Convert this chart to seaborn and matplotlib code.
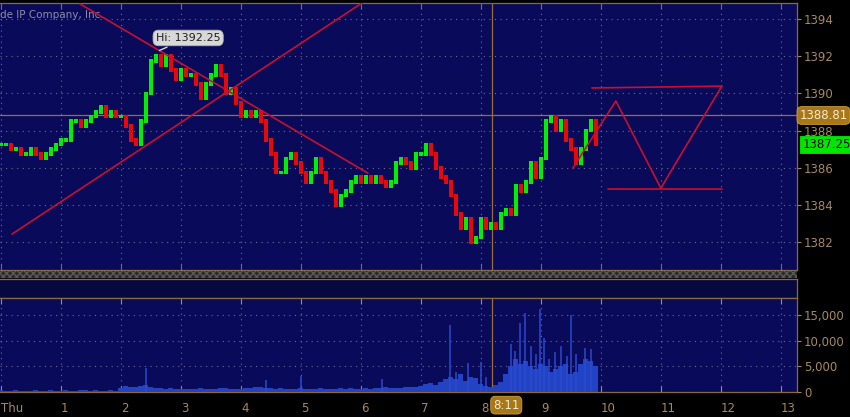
import numpy as np
import matplotlib.pyplot as plt
import seaborn as sns
from matplotlib.patches import Rectangle
import matplotlib.transforms as mtransforms

# 5-minute closes
closes = [1387.25, 1387.25, 1387.0, 1387.0, 1386.75, 1386.75, 1387.0, 1386.75, 1386.5, 1386.75,
          1387.0, 1387.25, 1387.5, 1387.5, 1388.5, 1388.5, 1388.25, 1388.5, 1388.75, 1389.0,
          1389.25, 1388.75, 1389.0, 1388.75, 1388.75, 1388.25, 1387.5, 1387.25, 1388.5, 1390.0,
          1391.75, 1392.0, 1391.5, 1392.0, 1391.25, 1390.75, 1391.25, 1391.0, 1391.0, 1390.5,
          1389.75, 1390.5, 1391.0, 1391.5, 1391.0, 1390.0, 1390.25, 1389.5, 1388.75, 1389.0,
          1388.75, 1389.0, 1388.5, 1387.5, 1386.75, 1385.75, 1385.75, 1386.5, 1386.75, 1386.25,
          1385.75, 1385.25, 1385.75, 1386.5, 1385.75, 1385.25, 1384.75, 1384.0, 1384.5, 1384.75,
          1385.25, 1385.5, 1385.25, 1385.5, 1385.25, 1385.5, 1385.25, 1385.0, 1385.25, 1386.25,
          1386.5, 1386.25, 1386.0, 1386.75, 1386.75, 1387.25, 1386.75, 1386.0, 1385.5, 1385.25,
          1384.5, 1383.5, 1382.75, 1383.25, 1382.0, 1382.25, 1383.25, 1382.75, 1383.0, 1382.75,
          1383.5, 1383.75, 1383.5, 1385.0, 1384.75, 1385.25, 1386.25, 1385.5, 1386.5, 1388.5,
          1388.75, 1388.0, 1388.5, 1387.5, 1387.0, 1386.25, 1387.0, 1388.0, 1388.5, 1387.25]

# 5-minute base volume
vol_base = [300, 250, 200, 300, 250, 200, 250, 300, 200, 250, 300, 250, 200, 300, 250, 200,
            300, 350, 250, 300, 250, 200, 300, 250,
            700, 1200, 1000, 900, 1100, 1300,
            1000, 800, 700, 600, 700, 600,
            500, 600, 500, 600, 700, 500, 600, 500, 700, 800, 600, 500,
            600, 700, 800, 1000, 900, 800, 700, 600, 700, 600, 500, 600,
            700, 600, 500, 600, 700, 600, 500, 600, 700, 600, 700, 600,
            600, 700, 600, 800, 700, 900, 800, 700, 800, 900, 1000, 900,
            1200, 1500, 1800, 1400, 2000, 2500,
            3000, 2500, 3500, 2200, 3000, 2800,
            1500, 1200, 1000, 1400,
            2000, 3500, 5000, 6500, 5500, 6000, 5000, 4500, 5500, 5000,
            4000, 4500, 5000, 5500, 3500, 4000, 5500, 6500, 6000, 5000]

# single-minute volume spikes (minute after open, volume)
spike_min = [145, 265, 300, 381, 449, 455, 467, 480, 485, 510, 514, 519, 524, 530,
             535, 539, 543, 548, 554, 560, 566, 570, 575, 584, 590]
spike_vol = [4700, 2300, 3100, 2500, 13100, 4000, 5700, 5900, 3000, 9400, 8000, 13500, 15500, 9000,
             7500, 16300, 10500, 6500, 7800, 9000, 7000, 15100, 7500, 8600, 8500]

hour_labels = ['Thu', '1', '2', '3', '4', '5', '6', '7', '8', '9', '10', '11', '12', '13']
price_ticks = [1382, 1384, 1386, 1388, 1390, 1392, 1394]
vol_ticks = [0, 5000, 10000, 15000]

cursor_hour = 8 + 11 / 60
cursor_price = 1388.81
last_price = 1387.25
hi_hour = 2.6
hi_price = 1392.25

# hand drawn trend lines
down_x = [1.317, 6.117]
down_y = [1394.81, 1385.71]
up_x = [0.183, 6.017]
up_y = [1382.43, 1394.86]
top_x = [9.85, 12.017]
top_y = [1390.29, 1390.39]
zig_x = [9.533, 10.25, 11.0, 12.017]
zig_y = [1385.98, 1389.59, 1384.90, 1390.39]
bot_x = [10.117, 12.017]
bot_y = [1384.85, 1384.85]

sns.set_style('dark')
plt.rcParams['font.family'] = ['DejaVu Sans']

navy = '#0a0a5a'
tan = '#a68a5c'
edge = '#8a6a40'
grid_kw = dict(color='#6c6c90', linewidth=0.8, linestyle=(0, (1, 4)))

fig = plt.figure(figsize=(8.5, 4.17), dpi=100, facecolor='black')
W, H = 850, 417
ax = fig.add_axes([0, 1 - 270 / H, 797 / W, 267 / H], facecolor=navy)
ax_e = fig.add_axes([0, 1 - 298 / H, 797 / W, 19 / H], facecolor='#080840')
ax_v = fig.add_axes([0, 1 - 392 / H, 797 / W, 94 / H], facecolor=navy)
fig.patches.append(Rectangle((0, 1 - 278 / H), 797 / W, 7 / H, transform=fig.transFigure,
                             facecolor='#2a2a2a', edgecolor='#5a5a5a', hatch='xxxxx', linewidth=0))

xlim = (-1 / 60, 13.27)

# price bars: body from previous close to close
c = np.array(closes)
o = np.r_[c[0], c[:-1]]
t = np.arange(len(c)) * 5 / 60
cols = np.where(c >= o, '#00f000', '#e80808')
lo = np.minimum(o, c) - 0.1
hi = np.maximum(o, c) + 0.1
ax.bar(t, hi - lo, bottom=lo, width=4.0 / 60, color=cols, linewidth=0, zorder=3)

for xs, ys in [(down_x, down_y), (up_x, up_y), (top_x, top_y), (zig_x, zig_y), (bot_x, bot_y)]:
    sns.lineplot(x=xs, y=ys, ax=ax, color='#c8102e', linewidth=1.2, sort=False, zorder=4)

ax.axhline(cursor_price, color='#9a6e3a', linewidth=0.9, zorder=2)
ax.axvline(cursor_hour, color='#9a6e3a', linewidth=0.9, zorder=2)

ax.set_xlim(*xlim)
ax.set_ylim(1380.5, 1394.86)
ax.set_xticks(range(14))
ax.set_xticklabels([])
ax.set_yticks(price_ticks)
ax.set_yticklabels([str(p) for p in price_ticks])
ax.yaxis.tick_right()
ax.tick_params(axis='y', colors=tan, labelsize=8.5, length=3, width=0.8, pad=2, direction='out')
ax.tick_params(axis='x', colors=edge, length=4, width=0.8, direction='in', top=True, bottom=True)
ax.grid(True, **grid_kw)
ax.set_xlabel('')
ax.set_ylabel('')

ax.text(0.0, 0.955, 'de IP Company, Inc.', transform=ax.transAxes, color='#8c8ca8',
        fontsize=7.5, ha='left', va='center')
ax.annotate('Hi: 1392.25', xy=(hi_hour, hi_price), xytext=(3.12, 1392.98), color='#202020',
            fontsize=8, ha='center', va='center', zorder=6,
            bbox=dict(boxstyle='round,pad=0.25,rounding_size=0.5', fc='#d8d8d8', ec='#b0b0b0', lw=0.6),
            arrowprops=dict(arrowstyle='-', color='#d8d8d8', lw=1))

tr = mtransforms.blended_transform_factory(ax.transAxes, ax.transData)
ax.text(1.003, cursor_price, f'{cursor_price:.2f}', transform=tr, color='#f4ead0', fontsize=8.5,
        ha='left', va='center', zorder=7, clip_on=False,
        bbox=dict(boxstyle='round,pad=0.2,rounding_size=0.4', fc='#a87818', ec='#d0a040', lw=0.6))
ax.text(1.007, last_price, f'{last_price:.2f}', transform=tr, color='black', fontsize=8.5,
        ha='left', va='center', zorder=7, clip_on=False,
        bbox=dict(boxstyle='square,pad=0.2', fc='#00e600', ec='#00e600', lw=0.6))

# empty study panel
ax_e.set_xlim(*xlim)
ax_e.set_xticks([])
ax_e.set_yticks([])

# volume
tv = np.arange(len(vol_base)) * 5 / 60
ax_v.bar(tv, vol_base, width=5 / 60, color='#2244c4', linewidth=0, zorder=3)
ax_v.vlines(np.array(spike_min) / 60, 0, spike_vol, color='#2a4ad0', linewidth=1.1, zorder=3)
ax_v.axvline(cursor_hour, color='#9a6e3a', linewidth=0.9, zorder=2)
ax_v.set_xlim(*xlim)
ax_v.set_ylim(0, 18400)
ax_v.set_yticks(vol_ticks)
ax_v.set_yticklabels([f'{v:,}' for v in vol_ticks])
ax_v.yaxis.tick_right()
ax_v.set_xticks(range(14))
ax_v.set_xticklabels(hour_labels, ha='left')
ax_v.tick_params(axis='y', colors=tan, labelsize=8.5, length=3, width=0.8, pad=2, direction='out')
ax_v.tick_params(axis='x', colors=tan, labelsize=8.5, length=4, width=0.8, pad=7,
                 direction='in', top=True, bottom=True)
ax_v.grid(True, **grid_kw)
ax_v.text(cursor_hour + 0.02, -0.14, '8:11',
          transform=mtransforms.blended_transform_factory(ax_v.transData, ax_v.transAxes),
          color='#f4ead0', fontsize=8.5, ha='left', va='center', zorder=7, clip_on=False,
          bbox=dict(boxstyle='round,pad=0.2,rounding_size=0.4', fc='#a87818', ec='#d0a040', lw=0.6))

for a in (ax, ax_e, ax_v):
    for s in a.spines.values():
        s.set_color(edge)
        s.set_linewidth(0.9)
    a.spines['left'].set_visible(False)

fig.savefig('out.png', dpi=100, facecolor='black')
